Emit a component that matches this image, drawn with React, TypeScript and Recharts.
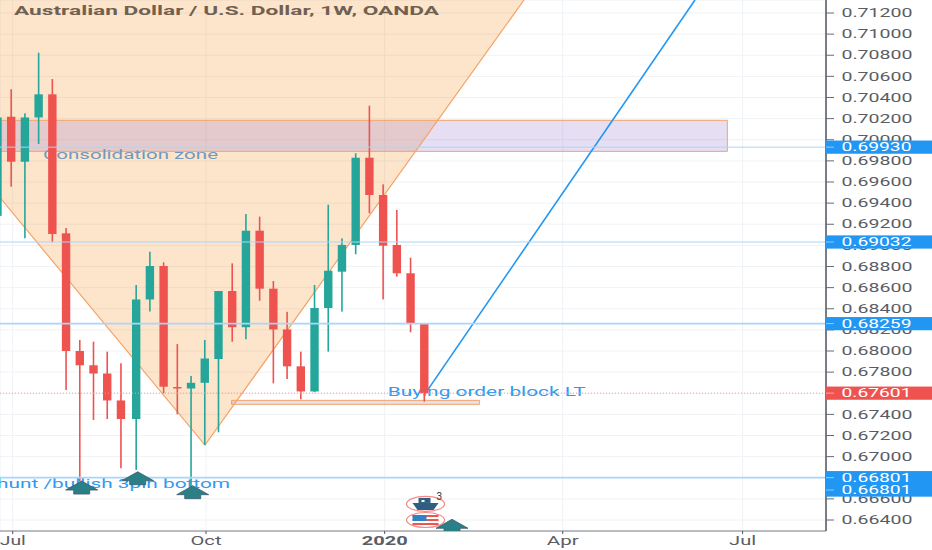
import React from 'react';
import { ComposedChart, Bar, Area, Line, Scatter, XAxis, YAxis, CartesianGrid, ReferenceLine, ReferenceArea } from 'recharts';

const weeks = [-1, 0, 1, 2, 3, 4, 5, 6, 7, 8, 9.11, 10.11, 11.11, 12.11, 13.11, 14.11, 15.11, 16.11, 17.11, 18.11, 19.11, 20.11, 21.11, 22.11, 23.11, 24.11, 25.11, 26.11, 27.11, 28.11, 29.11, 30.11];
const opens = [0.69279, 0.70218, 0.69792, 0.70211, 0.7043, 0.69114, 0.68, 0.67865, 0.67787, 0.67532, 0.67356, 0.68488, 0.68805, 0.67659, 0.67645, 0.67699, 0.67924, 0.68568, 0.68225, 0.69139, 0.6859, 0.68204, 0.67855, 0.67617, 0.68407, 0.68751, 0.69004, 0.6983, 0.69477, 0.69004, 0.68736, 0.68256];
const highs = [0.7025, 0.70478, 0.7025, 0.70824, 0.70575, 0.69165, 0.68104, 0.68089, 0.67994, 0.67884, 0.68625, 0.6894, 0.6884, 0.68066, 0.67764, 0.68104, 0.68568, 0.6883, 0.69297, 0.69272, 0.68663, 0.68371, 0.67994, 0.68625, 0.69385, 0.69067, 0.69872, 0.70322, 0.69578, 0.69335, 0.68883, 0.68256];
const lows = [0.6915, 0.69556, 0.69067, 0.6996, 0.69029, 0.67631, 0.66763, 0.67347, 0.67356, 0.6689, 0.66874, 0.68374, 0.676, 0.67401, 0.66703, 0.6711, 0.6723, 0.68088, 0.68111, 0.68476, 0.67694, 0.67735, 0.67543, 0.6761, 0.67994, 0.68373, 0.68916, 0.69304, 0.68488, 0.68704, 0.68177, 0.6752];
const closes = [0.70211, 0.69792, 0.70211, 0.7043, 0.69108, 0.68, 0.67865, 0.67787, 0.67532, 0.67356, 0.68488, 0.68805, 0.67662, 0.67645, 0.67699, 0.67929, 0.68568, 0.68225, 0.69139, 0.6859, 0.68204, 0.67855, 0.67617, 0.68407, 0.6876, 0.69004, 0.6983, 0.69477, 0.68997, 0.68736, 0.68256, 0.676];

const candles = weeks.map((week, i) => ({ week, open: opens[i], close: closes[i], range: [lows[i], highs[i]] }));

const yTicks = [0.664, 0.666, 0.668, 0.67, 0.672, 0.674, 0.676, 0.678, 0.68, 0.682, 0.684, 0.686, 0.688, 0.69, 0.692, 0.694, 0.696, 0.698, 0.7, 0.702, 0.704, 0.706, 0.708, 0.71, 0.712];
const xTickWeeks = [0.11, 14.2, 27.22, 40.2, 53.31];
const xTickLabels = ['Jul', 'Oct', '2020', 'Apr', 'Jul'];

const xDomain = [-0.816, 59.39];
const yDomain = [0.66296, 0.71323];

const veeLine = [
  { week: -0.889, price: 0.69463 },
  { week: 14.125, price: 0.6711 },
  { week: 37.38, price: 0.71323 },
];
const veeFill = veeLine.map((p) => ({ week: p.week, band: [p.price, yDomain[1]] }));
const projection = [
  { week: 30.2, price: 0.67601 },
  { week: 49.84, price: 0.71323 },
];

const arrows = [
  { week: 5.14, price: 0.66769 },
  { week: 9.22, price: 0.66857 },
  { week: 13.23, price: 0.66725 },
  { week: 32.13, price: 0.66407 },
];
const shipEvent = [{ week: 30.2, price: 0.66552, count: '3' }];
const flagEvent = [{ week: 30.2, price: 0.664 }];

const noteTexts = ['Consolidation zone', 'Buying order block LT', 'hunt /bullish 3pin bottom'];
const notes = [
  { week: 2.32, price: 0.69856, text: noteTexts[0] },
  { week: 27.44, price: 0.67615, text: noteTexts[1] },
  { week: -1.03, price: 0.66744, text: noteTexts[2] },
];
const title = 'Australian Dollar / U.S. Dollar, 1W, OANDA';

const consolidationZone = { x1: -1, x2: 52.2, y1: 0.6989, y2: 0.70184 };
const orderBlock = { x1: 16.06, x2: 34.14, y1: 0.67495, y2: 0.67533 };

const levelLines = [0.6993, 0.69032, 0.68259, 0.66801];
const lastPrice = 0.67601;
const tags = [
  { week: 59.39, price: 0.6993, kind: 'level', shift: 0 },
  { week: 59.39, price: 0.69032, kind: 'level', shift: 0 },
  { week: 59.39, price: 0.68259, kind: 'level', shift: 0 },
  { week: 59.39, price: 0.66801, kind: 'level', shift: 0 },
  { week: 59.39, price: 0.66801, kind: 'level', shift: 12.4 },
  { week: 59.39, price: 0.67601, kind: 'last', shift: 0 },
];

const UP = '#26a69a';
const DOWN = '#ef5350';
const BLUE = '#2196f3';
const ORANGE = '#f5a366';
const AXIS_TEXT = '#5a5d66';
const FONT = 'Roboto, "Open Sans", sans-serif';

const Candle = (props: any) => {
  const { x, y, width, height, payload } = props;
  const [low, high] = payload.range;
  const perUnit = height / (high - low);
  const top = y + (high - Math.max(payload.open, payload.close)) * perUnit;
  const bodyH = Math.abs(payload.open - payload.close) * perUnit;
  const color = payload.close >= payload.open ? UP : DOWN;
  const cx = x + width / 2;
  return (
    <g>
      <rect x={cx - 0.8} y={y} width={1.6} height={height} fill={color} />
      <rect x={cx - 4.2} y={top} width={8.4} height={Math.max(bodyH, 1.2)} fill={color} />
    </g>
  );
};

const ArrowShape = (props: any) => {
  const { cx, cy } = props;
  return (
    <polygon
      points={`${cx},${cy} ${cx + 16},${cy + 9} ${cx + 8},${cy + 9} ${cx + 8},${cy + 13} ${cx - 8},${cy + 13} ${cx - 8},${cy + 9} ${cx - 16},${cy + 9}`}
      fill="#2b7f86"
      stroke="#3b5a6e"
      strokeWidth={0.8}
    />
  );
};

const ShipShape = (props: any) => {
  const { cx, cy, payload } = props;
  return (
    <g>
      <ellipse cx={cx} cy={cy} rx={19} ry={7.5} fill="#fff" stroke="#f28b88" strokeWidth={1.2} />
      <polygon points={`${cx - 13},${cy - 1} ${cx + 13},${cy - 1} ${cx + 8},${cy + 6} ${cx - 8},${cy + 6}`} fill="#2f5f80" />
      <rect x={cx - 7} y={cy - 6} width={12} height={5} fill="#2f5f80" />
      <rect x={cx - 4} y={cy - 4} width={3} height={2} fill="#fff" />
      <text x={cx + 11} y={cy - 3.5} fontSize={10} fontFamily={FONT} fill="#333">{payload.count}</text>
    </g>
  );
};

const FlagShape = (props: any) => {
  const { cx, cy } = props;
  return (
    <g>
      <ellipse cx={cx} cy={cy} rx={19} ry={7.5} fill="#fff" stroke="#f28b88" strokeWidth={1.2} />
      <rect x={cx - 13} y={cy - 5} width={26} height={2} fill="#ef5350" />
      <rect x={cx - 13} y={cy - 1} width={26} height={2} fill="#ef5350" />
      <rect x={cx - 13} y={cy + 3} width={26} height={2} fill="#ef5350" />
      <rect x={cx - 13} y={cy - 5} width={14} height={6} fill="#2f83c4" />
    </g>
  );
};

const noteStyles: Record<string, { len: number; fill: string }> = {
  [noteTexts[0]]: { len: 175, fill: '#6f9ac0' },
  [noteTexts[1]]: { len: 198, fill: '#2f9bee' },
  [noteTexts[2]]: { len: 233, fill: '#2f9bee' },
};

const NoteShape = (props: any) => {
  const { cx, cy, payload } = props;
  const s = noteStyles[payload.text];
  return (
    <text x={cx} y={cy} dy={4} fontSize={12} fontFamily={FONT} fill={s.fill} textLength={s.len} lengthAdjust="spacingAndGlyphs">
      {payload.text}
    </text>
  );
};

const YTick = (props: any) => {
  const { y, payload } = props;
  return (
    <g>
      <line x1={826} x2={834} y1={y} y2={y} stroke="#666a73" strokeWidth={1} />
      <text x={841.5} y={y} dy={4.2} fontSize={12} fontFamily={FONT} fill={AXIS_TEXT} textLength={71} lengthAdjust="spacingAndGlyphs">
        {payload.value.toFixed(5)}
      </text>
    </g>
  );
};

const xLabelWidths = [26, 31, 46, 32, 27];

const XTick = (props: any) => {
  const { x, payload } = props;
  const i = xTickWeeks.indexOf(payload.value);
  const w = xLabelWidths[i];
  return (
    <g>
      <line x1={x} x2={x} y1={531} y2={534} stroke="#50535e" strokeWidth={1} />
      <text
        x={x - w / 2}
        y={545}
        fontSize={12}
        fontWeight={xTickLabels[i] === '2020' ? 700 : 400}
        fontFamily={FONT}
        fill={AXIS_TEXT}
        textLength={w}
        lengthAdjust="spacingAndGlyphs"
      >
        {xTickLabels[i]}
      </text>
    </g>
  );
};

const TagShape = (props: any) => {
  const { cx, cy: cy0, payload } = props;
  const cy = cy0 + payload.shift;
  const color = payload.kind === 'last' ? DOWN : BLUE;
  return (
    <g>
      <rect x={cx} y={cy - 6.6} width={106} height={13.2} fill={color} />
      <line x1={cx} x2={cx + 8} y1={cy} y2={cy} stroke="#ffffff" strokeOpacity={0.5} />
      <text x={cx + 15.5} y={cy} dy={4.2} fontSize={12} fontFamily={FONT} fill="#fff" textLength={70} lengthAdjust="spacingAndGlyphs">
        {payload.price.toFixed(5)}
      </text>
    </g>
  );
};

export default function App() {
  return (
    <div style={{ position: 'absolute', left: 0, top: 0, width: 932, height: 550, overflow: 'hidden', background: '#fff' }}>
      <ComposedChart width={932} height={550} data={candles} margin={{ top: 0, right: 0, bottom: 0, left: 0 }}>
        <CartesianGrid stroke="#eff2f6" strokeWidth={1} />
        <XAxis
          dataKey="week"
          type="number"
          domain={xDomain}
          allowDataOverflow
          ticks={xTickWeeks}
          interval={0}
          height={19}
          tick={<XTick />}
          tickLine={false}
          axisLine={{ stroke: '#7c7f87', strokeWidth: 1 }}
        />
        <XAxis xAxisId="tags" dataKey="week" type="number" domain={xDomain} hide />
        <YAxis
          type="number"
          orientation="right"
          domain={yDomain}
          allowDataOverflow
          ticks={yTicks}
          interval={0}
          width={106}
          tick={<YTick />}
          tickLine={false}
          axisLine={{ stroke: '#50535e', strokeWidth: 1.5 }}
        />
        <YAxis yAxisId="tags" type="number" orientation="right" domain={yDomain} hide />
        <Area data={veeFill} dataKey="band" type="linear" stroke="none" fill="#f57c00" fillOpacity={0.2} isAnimationActive={false} activeDot={false} dot={false} />
        <ReferenceArea {...consolidationZone} ifOverflow="visible" fill="#9575cd" fillOpacity={0.24} stroke={ORANGE} strokeWidth={1} />
        <ReferenceArea {...orderBlock} ifOverflow="visible" fill="#9575cd" fillOpacity={0.24} stroke={ORANGE} strokeWidth={1} />
        {levelLines.map((v, i) => (
          <ReferenceLine key={i} y={v} stroke="#a9d6fa" strokeWidth={i >= 2 ? 1.8 : 1} />
        ))}
        <ReferenceLine y={lastPrice} stroke="#f29c9a" strokeWidth={1} strokeDasharray="1 2" />
        <Line data={veeLine} dataKey="price" type="linear" stroke={ORANGE} strokeWidth={1.2} dot={false} activeDot={false} isAnimationActive={false} zIndex={150} />
        <Line data={projection} dataKey="price" type="linear" stroke={BLUE} strokeWidth={1.6} dot={false} activeDot={false} isAnimationActive={false} zIndex={150} />
        <Scatter data={notes} dataKey="price" shape={<NoteShape />} isAnimationActive={false} zIndex={250} />
        <Bar dataKey="range" barSize={9} shape={<Candle />} isAnimationActive={false} zIndex={300} />
        <Scatter data={shipEvent} dataKey="price" shape={<ShipShape />} isAnimationActive={false} />
        <Scatter data={flagEvent} dataKey="price" shape={<FlagShape />} isAnimationActive={false} />
        <Scatter data={arrows} dataKey="price" shape={<ArrowShape />} isAnimationActive={false} />
        <Scatter xAxisId="tags" yAxisId="tags" data={tags} dataKey="price" shape={<TagShape />} isAnimationActive={false} zIndex={3000} />
        <text x={14} y={15} fontSize={12} fontWeight={700} fontFamily={FONT} fill="#4f5966" textLength={425} lengthAdjust="spacingAndGlyphs">
          {title}
        </text>
      </ComposedChart>
    </div>
  );
}
